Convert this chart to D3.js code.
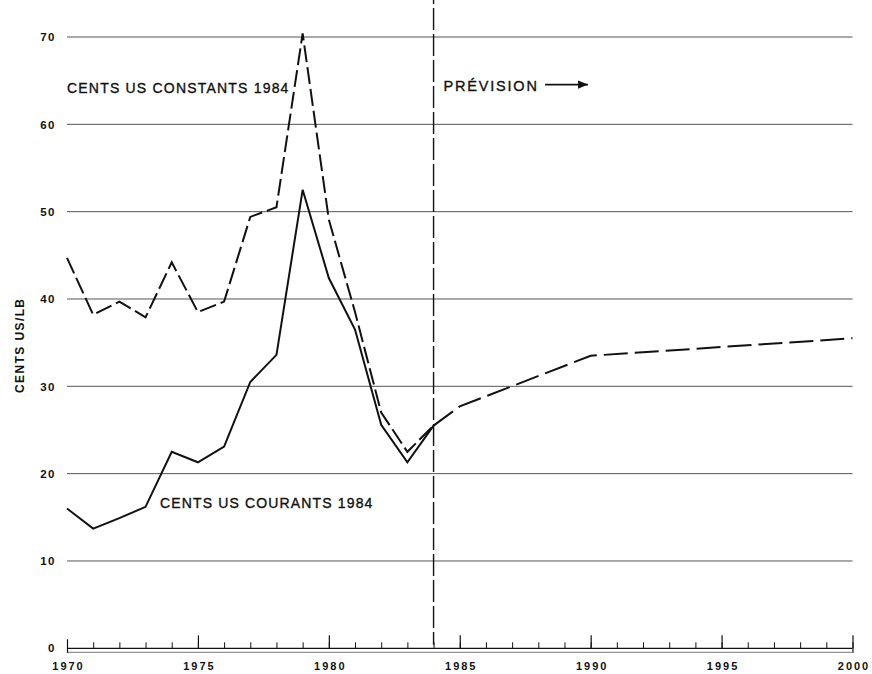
<!DOCTYPE html>
<html>
<head>
<meta charset="utf-8">
<script src="https://cdn.jsdelivr.net/npm/d3@7"></script>
<style>
  html, body { margin: 0; padding: 0; background: #fff; }
  svg { display: block; }
  text { font-family: "Liberation Sans", Arial, Helvetica, sans-serif; fill: #111; }
</style>
</head>
<body>
<svg id="chart" width="872" height="674"></svg>
<script>
// ---- data ----
const histYears = [1970,1971,1972,1973,1974,1975,1976,1977,1978,1979,1980,1981,1982,1983,1984];
const constantCents = [44.7,38.2,39.7,37.9,44.2,38.5,39.7,49.4,50.5,70.4,49.1,38.5,27.0,22.5,25.5];
const currentCents  = [16.0,13.7,14.9,16.2,22.5,21.3,23.1,30.5,33.6,52.5,42.4,36.5,25.6,21.3,25.5];
const forecastYears = [1984,1985,1990,2000];
const forecastCents = [25.5,27.7,33.5,35.5];
const yTickValues = [0,10,20,30,40,50,60,70];
const xLabelYears = [1970,1975,1980,1985,1990,1995,2000];
const allYears = d3.range(1970, 2001);
const forecastStart = 1984;
const labelConstant = "CENTS US CONSTANTS 1984";
const labelCurrent = "CENTS US COURANTS 1984";
const labelForecast = "PRÉVISION";
const yTitle = "CENTS US/LB";

// ---- scales ----
const svg = d3.select("#chart");
const x = d3.scaleLinear().domain([1970, 2000]).range([67, 852.5]);
const y = d3.scaleLinear().domain([0, 70]).range([648.3, 37]);

// gridlines
svg.append("g").selectAll("line")
  .data(yTickValues.filter(v => v > 0))
  .join("line")
  .attr("x1", x(1970)).attr("x2", x(2000))
  .attr("y1", d => y(d)).attr("y2", d => y(d))
  .attr("stroke", "#555").attr("stroke-width", 1);

// y axis labels
const yAxis = d3.axisLeft(y).tickValues(yTickValues).tickSize(0).tickPadding(11).tickFormat(d3.format("d"));
const gy = svg.append("g").attr("transform", `translate(${x(1970)},0)`).call(yAxis);
gy.select(".domain").remove();
gy.selectAll("text")
  .style("font-size", "11.5px").style("font-weight", "bold")
  .style("letter-spacing", "1.5px").attr("fill", "#111")
  .style("font-family", '"Liberation Sans", Arial, sans-serif');

// y title
svg.append("text")
  .attr("transform", `translate(24, ${y(34.7)}) rotate(-90)`)
  .attr("text-anchor", "middle")
  .style("font-size", "12px").style("font-weight", "bold").style("letter-spacing", "1.4px")
  .text(yTitle);

// x axis: baseline + double line
const base = y(0);
svg.append("line").attr("x1", x(1970)).attr("x2", x(2000)).attr("y1", base).attr("y2", base)
  .attr("stroke", "#111").attr("stroke-width", 1.3);
svg.append("line").attr("x1", x(1970)).attr("x2", x(2000)).attr("y1", base + 4).attr("y2", base + 4)
  .attr("stroke", "#777").attr("stroke-width", 1);

// minor ticks
const minorAxis = d3.axisBottom(x).tickValues(allYears).tickSize(-6).tickFormat("");
const gMinor = svg.append("g").attr("transform", `translate(0,${base})`).call(minorAxis);
gMinor.select(".domain").remove();
gMinor.selectAll("line").attr("stroke", "#111").attr("stroke-width", 1);

// major ticks + labels
const majorAxis = d3.axisBottom(x).tickValues(xLabelYears).tickSize(-13).tickPadding(14).tickFormat(d3.format("d"));
const gMajor = svg.append("g").attr("transform", `translate(0,${base})`).call(majorAxis);
gMajor.select(".domain").remove();
gMajor.selectAll("line").attr("stroke", "#111").attr("stroke-width", 1.2)
  .attr("y2", d => d === 1970 ? -9 : -13)
  .attr("y1", d => (d === 1970 || d === 2000) ? 4.5 : 0);
gMajor.selectAll("text")
  .style("font-size", "11px").style("font-weight", "bold")
  .style("letter-spacing", "2px").attr("fill", "#111")
  .style("font-family", '"Liberation Sans", Arial, sans-serif')
  .attr("dx", "1px");

// forecast divider
svg.append("line")
  .attr("x1", x(forecastStart)).attr("x2", x(forecastStart))
  .attr("y1", y(76.3)).attr("y2", y(0.4))
  .attr("stroke", "#111").attr("stroke-width", 1.4)
  .attr("stroke-dasharray", "22,4");

// lines
const line = d3.line().x(d => x(d[0])).y(d => y(d[1]));
svg.append("path")
  .datum(histYears.map((yr, i) => [yr, currentCents[i]]))
  .attr("d", line).attr("fill", "none").attr("stroke", "#111")
  .attr("stroke-width", 2).attr("stroke-linejoin", "miter");
svg.append("path")
  .datum(histYears.map((yr, i) => [yr, constantCents[i]]))
  .attr("d", line).attr("fill", "none").attr("stroke", "#111")
  .attr("stroke-width", 2).attr("stroke-dasharray", "17,5");
svg.append("path")
  .datum(forecastYears.map((yr, i) => [yr, forecastCents[i]]))
  .attr("d", line).attr("fill", "none").attr("stroke", "#111")
  .attr("stroke-width", 2).attr("stroke-dasharray", "24,7");

// annotations
const ann = [
  {t: labelConstant, yr: 1970, v: 63.6, fs: "14px", ls: "1.2px"},
  {t: labelCurrent, yr: 1973.55, v: 16.1, fs: "14px", ls: "1.15px"},
  {t: labelForecast, yr: 1984.38, v: 63.76, fs: "14.5px", ls: "1.8px"}
];
svg.append("g").selectAll("text").data(ann).join("text")
  .attr("x", d => x(d.yr)).attr("y", d => y(d.v))
  .style("font-size", d => d.fs).style("letter-spacing", d => d.ls)
  .attr("stroke", "#111").attr("stroke-width", 0.35)
  .text(d => d.t);

// arrow
const ay = y(64.55);
svg.append("line")
  .attr("x1", x(1988.26)).attr("x2", x(1989.9))
  .attr("y1", ay).attr("y2", ay)
  .attr("stroke", "#111").attr("stroke-width", 1.6);
svg.append("path")
  .attr("d", `M${x(1989.9) - 10},${ay - 4.2} L${x(1989.9)},${ay} L${x(1989.9) - 10},${ay + 4.2} Z`)
  .attr("fill", "#111");
</script>
</body>
</html>
